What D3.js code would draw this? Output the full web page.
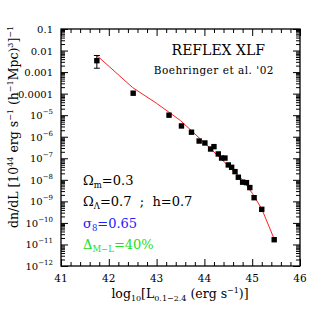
<!DOCTYPE html>
<html>
<head>
<meta charset="utf-8">
<script src="https://cdn.jsdelivr.net/npm/d3@7"></script>
<style>
  body { margin: 0; background: #fff; }
  text { font-family: "DejaVu Serif", "Liberation Serif", serif; }
</style>
</head>
<body>
<div id="chart"></div>
<script>
// data: log10 luminosity and number density
const obsLogL = [41.75, 42.51, 43.26, 43.52, 43.73, 43.89, 44.01, 44.13, 44.20, 44.29, 44.36, 44.43,
  44.50, 44.57, 44.64, 44.71, 44.80, 44.88, 44.95, 45.04, 45.20, 45.46];
const obsLogN = [-2.47, -3.98, -5.00, -5.50, -5.79, -6.20, -6.29, -6.57, -6.46, -6.80, -6.99, -6.99,
  -7.31, -7.42, -7.62, -7.88, -8.11, -8.13, -8.36, -8.83, -9.37, -10.78];
// error bar on first point only
const errLogN = [-2.23, -2.82];

const modelLogL = [41.75, 42.5, 43.0, 43.5, 44.0, 44.5, 44.8, 45.0, 45.2, 45.46];
const modelLogN = [-2.23, -3.72, -4.45, -5.25, -6.28, -7.35, -8.0, -8.62, -9.35, -10.75];

const xMajor = [41, 42, 43, 44, 45, 46];
const yExp = [-1, -2, -3, -4, -5, -6, -7, -8, -9, -10, -11, -12];

const W = 327, H = 327;
const plot = { left: 61, right: 300, top: 29, bottom: 266 };
const sans = "DejaVu Sans, Verdana, sans-serif";

const svg = d3.select("#chart").append("svg")
  .attr("width", W).attr("height", H);

const x = d3.scaleLinear().domain([41, 46]).range([plot.left, plot.right]);
const y = d3.scaleLog().domain([1e-12, 0.1]).range([plot.bottom, plot.top]);

// minor ticks
const xMinor = [];
for (let v = 41; v < 46; v += 0.2) {
  const r = Math.round(v * 10) / 10;
  if (Math.abs(r - Math.round(r)) > 1e-6) xMinor.push(r);
}
const yMinor = [];
for (let e = -12; e < -1; e++) {
  for (let k = 2; k <= 9; k++) yMinor.push(k * Math.pow(10, e));
}
const yMajor = yExp.map(e => Math.pow(10, e));

function ax(g, axis) {
  g.call(axis);
  g.select(".domain").remove();
  g.selectAll("text").remove();
  g.selectAll("line").attr("stroke", "#000").attr("stroke-width", 1);
}

svg.append("g").attr("transform", `translate(0,${plot.bottom})`)
  .call(g => ax(g, d3.axisBottom(x).tickValues(xMajor).tickSize(-7)));
svg.append("g").attr("transform", `translate(0,${plot.bottom})`)
  .call(g => ax(g, d3.axisBottom(x).tickValues(xMinor).tickSize(-4)));
svg.append("g").attr("transform", `translate(0,${plot.top})`)
  .call(g => ax(g, d3.axisTop(x).tickValues(xMajor).tickSize(-7)));
svg.append("g").attr("transform", `translate(0,${plot.top})`)
  .call(g => ax(g, d3.axisTop(x).tickValues(xMinor).tickSize(-4)));

svg.append("g").attr("transform", `translate(${plot.left},0)`)
  .call(g => ax(g, d3.axisLeft(y).tickValues(yMajor).tickSize(-7)));
svg.append("g").attr("transform", `translate(${plot.left},0)`)
  .call(g => ax(g, d3.axisLeft(y).tickValues(yMinor).tickSize(-4)));
svg.append("g").attr("transform", `translate(${plot.right},0)`)
  .call(g => ax(g, d3.axisRight(y).tickValues(yMajor).tickSize(-7)));
svg.append("g").attr("transform", `translate(${plot.right},0)`)
  .call(g => ax(g, d3.axisRight(y).tickValues(yMinor).tickSize(-4)));

// frame
svg.append("rect")
  .attr("x", plot.left).attr("y", plot.top)
  .attr("width", plot.right - plot.left).attr("height", plot.bottom - plot.top)
  .attr("fill", "none").attr("stroke", "#000").attr("stroke-width", 1.3);

// x tick labels
svg.selectAll(".xlab").data(xMajor).join("text")
  .attr("x", d => x(d)).attr("y", plot.bottom + 16)
  .attr("text-anchor", "middle").attr("font-size", 10.5)
  .text(d => d);

// y tick labels
const plain = { "-1": "0.1", "-2": "0.01", "-3": "0.001", "-4": "0.0001" };
yExp.forEach(e => {
  const t = svg.append("text")
    .attr("x", plot.left - 8).attr("y", y(Math.pow(10, e)) + 4)
    .attr("text-anchor", "end").attr("font-size", 10);
  if (plain[e]) {
    t.text(plain[e]);
  } else {
    t.append("tspan").text("10");
    t.append("tspan").attr("dy", -5).attr("font-size", 7).text("\u2212" + (-e));
  }
});

// axis titles
const xt = svg.append("text")
  .attr("x", 180).attr("y", 298)
  .attr("text-anchor", "middle").attr("font-size", 12.5);
xt.append("tspan").text("log");
xt.append("tspan").attr("dy", 3).attr("font-size", 8).text("10");
xt.append("tspan").attr("dy", -3).text("[L");
xt.append("tspan").attr("dy", 3).attr("font-size", 8).text("0.1\u22122.4");
xt.append("tspan").attr("dy", -3).text(" (erg s");
xt.append("tspan").attr("dy", -5).attr("font-size", 8).text("\u22121");
xt.append("tspan").attr("dy", 5).text(")]");

const yt = svg.append("text")
  .attr("transform", "translate(18,127) rotate(-90)")
  .attr("text-anchor", "middle").attr("font-size", 12.5);
yt.append("tspan").text("dn/dL [10");
yt.append("tspan").attr("dy", -5).attr("font-size", 8).text("44");
yt.append("tspan").attr("dy", 5).text(" erg s");
yt.append("tspan").attr("dy", -5).attr("font-size", 8).text("\u22121");
yt.append("tspan").attr("dy", 5).text(" (h");
yt.append("tspan").attr("dy", -5).attr("font-size", 8).text("\u22121");
yt.append("tspan").attr("dy", 5).text("Mpc)");
yt.append("tspan").attr("dy", -5).attr("font-size", 8).text("3");
yt.append("tspan").attr("dy", 5).text("]");
yt.append("tspan").attr("dy", -5).attr("font-size", 8).text("\u22121");

// model curve
const line = d3.line().x(d => x(d[0])).y(d => y(Math.pow(10, d[1])));
svg.append("path")
  .datum(modelLogL.map((v, i) => [v, modelLogN[i]]))
  .attr("d", line)
  .attr("fill", "none").attr("stroke", "#ff2020").attr("stroke-width", 1);

// error bar
svg.append("line")
  .attr("x1", x(obsLogL[0])).attr("x2", x(obsLogL[0]))
  .attr("y1", y(Math.pow(10, errLogN[0]))).attr("y2", y(Math.pow(10, errLogN[1])))
  .attr("stroke", "#000");
errLogN.forEach(e => {
  svg.append("line")
    .attr("x1", x(obsLogL[0]) - 3).attr("x2", x(obsLogL[0]) + 3)
    .attr("y1", y(Math.pow(10, e))).attr("y2", y(Math.pow(10, e)))
    .attr("stroke", "#000");
});

// data points
svg.selectAll(".pt").data(obsLogL.map((v, i) => [v, obsLogN[i]])).join("rect")
  .attr("x", d => x(d[0]) - 2.7).attr("y", d => y(Math.pow(10, d[1])) - 2.7)
  .attr("width", 5.4).attr("height", 5.4).attr("fill", "#000");

// labels
svg.append("text").attr("x", 265).attr("y", 55).attr("text-anchor", "end")
  .attr("font-family", "Liberation Serif, serif")
  .attr("font-size", 14).text("REFLEX XLF");
svg.append("text").attr("x", 274).attr("y", 74).attr("text-anchor", "end")
  .attr("font-family", sans)
  .attr("font-size", 10.5).attr("letter-spacing", 0.5).text("Boehringer et al. '02");

const ann = [
  { sym: "\u03A9", sub: "m", rest: "=0.3", color: "#000", y: 185 },
  { sym: "\u03A9", sub: "\u039B", rest: "=0.7\u00A0\u00A0;\u00A0\u00A0h=0.7", color: "#000", y: 206 },
  { sym: "\u03C3", sub: "8", rest: "=0.65", color: "#2020ff", y: 228 },
  { sym: "\u0394", sub: "M\u2212L", rest: "=40%", color: "#20e020", y: 249 }
];
ann.forEach(a => {
  const t = svg.append("text").attr("x", 83).attr("y", a.y)
    .attr("font-family", sans)
    .attr("font-size", 13).attr("fill", a.color);
  t.append("tspan").attr("font-family", "DejaVu Serif, serif").text(a.sym);
  t.append("tspan").attr("dy", 3).attr("font-size", 8.5).text(a.sub);
  t.append("tspan").attr("dy", -3).text(a.rest);
});
</script>
</body>
</html>
